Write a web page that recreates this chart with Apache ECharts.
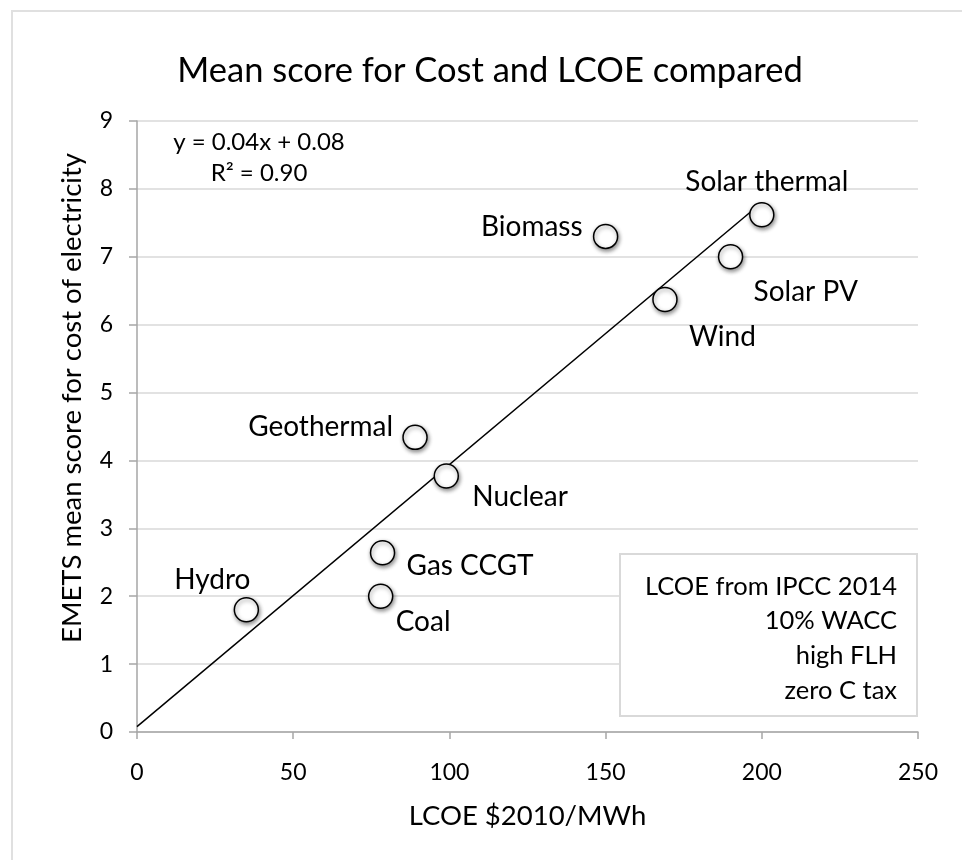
<!DOCTYPE html>
<html>
<head>
<meta charset="utf-8">
<script src="https://cdn.jsdelivr.net/npm/echarts@6/dist/echarts.min.js"></script>
<style>
  html, body { margin: 0; padding: 0; background: #fff; }
  #echarts { width: 962px; height: 860px; }
</style>
</head>
<body>
<div id="echarts"></div>
<script>
// technologies, LCOE ($2010/MWh) and mean score
var techNames = ['Hydro', 'Coal', 'Gas CCGT', 'Geothermal', 'Nuclear', 'Biomass', 'Wind', 'Solar PV', 'Solar thermal'];
var lcoeValues = [35, 78, 78.6, 89, 99, 150, 169, 190, 200];
var scoreValues = [1.8, 2.0, 2.64, 4.34, 3.77, 7.3, 6.37, 7.0, 7.62];
// trend line ends (linear fit)
var trendX = [0, 200];
var trendY = [0.08, 7.8];
var xTicks = [0, 50, 100, 150, 200, 250];
var yTicks = [0, 1, 2, 3, 4, 5, 6, 7, 8, 9];
var noteLines = ['LCOE from IPCC 2014', '10% WACC', 'high FLH', 'zero C tax'];

window.onload = function(){
    var font = 'Lato';
    // where each label sits next to its circle
    var labelPlace = {
        'Hydro': ['center', [-34, -30]],
        'Coal': ['left', [15, 26]],
        'Gas CCGT': ['left', [24, 13]],
        'Geothermal': ['right', [-22, -10]],
        'Nuclear': ['left', [26, 21]],
        'Biomass': ['right', [-23, -9]],
        'Wind': ['left', [24, 37]],
        'Solar PV': ['left', [23, 35]],
        'Solar thermal': ['center', [5, -33]]
    };

    var points = techNames.map(function(n, i){
        var p = labelPlace[n];
        return {
            name: n,
            value: [lcoeValues[i], scoreValues[i]],
            label: { align: p[0], offset: p[1] }
        };
    });

    var trend = trendX.map(function(x, i){ return [x, trendY[i]]; });

    var option = {
        animation: false,
        backgroundColor: '#fff',
        title: {
            text: 'Mean score for Cost and LCOE compared',
            left: 485,
            top: 48,
            textAlign: 'center',
            textStyle: { fontFamily: font, fontSize: 34.5, fontWeight: 'normal', color: '#000' }
        },
        grid: { left: 137, right: 44, top: 121, bottom: 128 },
        xAxis: {
            type: 'value',
            min: xTicks[0],
            max: xTicks[xTicks.length - 1],
            interval: 50,
            name: 'LCOE $2010/MWh',
            nameLocation: 'middle',
            nameGap: 70,
            nameTextStyle: { fontFamily: font, fontSize: 27.5, color: '#000' },
            axisLine: { lineStyle: { color: '#a6a6a6', width: 1.5 } },
            axisTick: { show: true, length: 7, lineStyle: { color: '#a6a6a6', width: 1.5 } },
            axisLabel: { fontFamily: font, fontSize: 23, color: '#000', margin: 29 },
            splitLine: { show: false }
        },
        yAxis: {
            type: 'value',
            min: yTicks[0],
            max: yTicks[yTicks.length - 1],
            interval: 1,
            axisLine: { show: true, lineStyle: { color: '#a6a6a6', width: 1.5 } },
            axisTick: { show: true, length: 8, lineStyle: { color: '#a6a6a6', width: 1.5 } },
            axisLabel: { fontFamily: font, fontSize: 23, color: '#000', margin: 24 },
            splitLine: { lineStyle: { color: '#d9d9d9', width: 1.5 } }
        },
        series: [{
            type: 'line',
            data: trend,
            showSymbol: false,
            lineStyle: { color: '#000', width: 1.5 },
            z: 2
        }, {
            type: 'scatter',
            data: points,
            symbolSize: 24,
            itemStyle: {
                color: '#fff',
                opacity: 1,
                borderColor: '#000',
                borderWidth: 1.5,
                shadowBlur: 4,
                shadowOffsetX: 1,
                shadowOffsetY: 2,
                shadowColor: 'rgba(0,0,0,0.45)'
            },
            label: {
                show: true,
                position: 'inside',
                formatter: '{b}',
                fontFamily: font,
                fontSize: 28,
                color: '#000'
            },
            z: 3
        }],
        graphic: [{
            type: 'rect',
            shape: { x: 12, y: 11, width: 1000, height: 900 },
            style: { fill: 'none', stroke: '#e0e0e0', lineWidth: 2 },
            silent: true
        }, {
            type: 'text',
            x: 72, y: 398,
            rotation: Math.PI / 2,
            style: {
                text: 'EMETS mean score for cost of electricity',
                font: '27.5px Lato',
                fill: '#000',
                textAlign: 'center',
                textVerticalAlign: 'middle'
            }
        }, {
            type: 'text',
            x: 259, y: 142,
            style: { text: 'y = 0.04x + 0.08', font: '24px Lato', fill: '#000', textAlign: 'center', textVerticalAlign: 'middle' }
        }, {
            type: 'text',
            x: 259, y: 173,
            style: { text: 'R² = 0.90', font: '24px Lato', fill: '#000', textAlign: 'center', textVerticalAlign: 'middle' }
        }, {
            type: 'rect',
            shape: { x: 620, y: 554, width: 297, height: 162 },
            style: { fill: '#fff', stroke: '#d9d9d9', lineWidth: 2 },
            z: 10
        }, {
            type: 'text',
            x: 897, y: 569,
            style: {
                text: noteLines.join('\n'),
                font: '25.5px Lato',
                lineHeight: 34.7,
                fill: '#000',
                textAlign: 'right',
                textVerticalAlign: 'top'
            },
            z: 11
        }]
    };

    var mychart = echarts.init(document.getElementById("echarts"));
    mychart.setOption(option);
};
</script>
</body>
</html>
